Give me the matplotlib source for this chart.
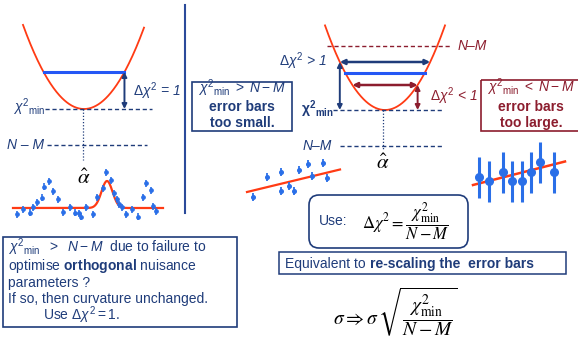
import numpy as np
import matplotlib
matplotlib.use("Agg")
import matplotlib.pyplot as plt
from matplotlib.patches import Rectangle, FancyBboxPatch

plt.rcParams['font.family'] = ['Liberation Sans', 'DejaVu Sans']
plt.rcParams['mathtext.fontset'] = 'custom'
plt.rcParams['mathtext.rm'] = 'Liberation Sans'
plt.rcParams['mathtext.it'] = 'Liberation Sans:italic'
plt.rcParams['mathtext.bf'] = 'Liberation Sans:bold'

# ---------------- data ----------------
# parabola shapes (vertex x, vertex y, curvature, x-range)
left_par = dict(x0=84, y0=109, k=0.0226, xmin=23, xmax=144)
right_par = dict(x0=385, y0=110, k=0.0235, xmin=325, xmax=445)
left_level = 72                      # blue level, left panel
right_levels = [62, 73, 85]          # navy arrow, blue line, dark red arrow

# left-panel data with a bump
bump_x = [16.7, 23.3, 30, 33.3, 37.3, 41.7, 44.3, 49.3, 52.7, 57.7, 62.7, 70, 75,
          79, 80.7, 85.7, 92.7, 96.7, 102.7, 106, 111, 114.3, 116.7, 119.3, 121.7,
          126, 131.7, 138.3, 142.7, 145.7, 150.7, 153.3, 156]
bump_y = [214.3, 209.3, 212.7, 207.3, 202.3, 197.7, 186.7, 181, 191, 199.3, 212.3,
          207.3, 212.7, 213.3, 216.7, 207.3, 214, 197.3, 188.3, 172.3, 180, 193.3,
          199.3, 204.3, 207.3, 214.3, 209.3, 216.7, 197.3, 183.3, 190, 206, 211]
bump_base, bump_amp, bump_mu, bump_sig = 208, 27, 107, 5.5

# small-error-bar fit (right panel, left)
small_x = [253, 267, 281, 281, 289, 294, 299, 308, 312, 323, 327]
small_y = [197, 177, 172, 191, 186, 191, 170, 164, 176, 163, 178]
small_line = ([247, 340], [192, 169.5])

# large-error-bar fit (right panel, right)
large_x = [479, 489, 503, 512, 522, 531, 540, 554]
large_y = [177, 181, 172, 181, 181, 172, 162, 172]
large_line = ([473, 565], [185, 161.5])

NAVY = '#1F3C7A'
DRED = '#8C1D2E'
RED = '#FF3B14'
BLUE = '#2457F5'
PT = '#2A6FE8'

CHI = r"\chi^2{}_{\rm min}"

fig = plt.figure(figsize=(5.78, 3.40), dpi=100)
ax = fig.add_axes([0, 0, 1, 1])
ax.set_xlim(0, 578)
ax.set_ylim(340, 0)
ax.axis('off')


def parabola(p):
    x = np.linspace(p['xmin'], p['xmax'], 200)
    return x, p['y0'] - p['k'] * (x - p['x0']) ** 2


def cross(p, level):
    d = np.sqrt((p['y0'] - level) / p['k'])
    return p['x0'] - d, p['x0'] + d


def arrow(x1, y1, x2, y2, color, style='<|-|>', lw=1.4, ms=7):
    ax.annotate('', xy=(x2, y2), xytext=(x1, y1),
                arrowprops=dict(arrowstyle=style, color=color, lw=lw,
                                shrinkA=0, shrinkB=0, mutation_scale=ms))


dash = dict(ls=(0, (3, 2)), lw=1.0)

# ---------------- left panel ----------------
x, y = parabola(left_par)
ax.plot(x, y, color=RED, lw=1.3)
a, b = cross(left_par, left_level)
ax.plot([a, b], [left_level, left_level], color=BLUE, lw=2.2)
arrow(b, left_level, b, left_par['y0'], NAVY)
ax.text(133, 96, r"$\mathit{\Delta}\chi^2$ = 1", style='italic', color=NAVY,
        fontsize=10, va='baseline')
ax.plot([45, 152], [109, 109], color=NAVY, **dash)
ax.text(13, 112, "$" + CHI + "$", color=NAVY, fontsize=10, va='baseline')
ax.plot([83, 83], [109, 160], color=NAVY, ls=(0, (1, 1.5)), lw=0.9)
ax.text(7, 145, "N – M", style='italic', color=NAVY, fontsize=10, va='center')
ax.plot([47, 147], [145, 145], color=NAVY, **dash)
ax.text(84, 178, r"$\hat{\alpha}$", fontsize=15, ha='center', va='center',
        math_fontfamily='stix')

bx = np.linspace(13, 163, 300)
ax.plot(bx, bump_base - bump_amp * np.exp(-0.5 * ((bx - bump_mu) / bump_sig) ** 2),
        color=RED, lw=1.6)
ax.errorbar(bump_x, bump_y, yerr=3.5, fmt='o', ms=2.4, color=PT, elinewidth=1.2,
            capsize=0)

ax.plot([185, 185], [5, 213], color='#2B4A9A', lw=1.5)

# ---------------- right panel ----------------
x, y = parabola(right_par)
ax.plot([327, 452], [46, 46], color=DRED, ls=(0, (3, 2)), lw=1.0)
ax.text(458, 46, "N–M", style='italic', color=DRED, fontsize=10, va='center')
ax.plot(x, y, color=RED, lw=1.3)
n1, n2 = cross(right_par, right_levels[0])
arrow(n1, right_levels[0], n2, right_levels[0], NAVY, lw=1.8)
c1, c2 = cross(right_par, right_levels[1])
ax.plot([c1, c2], [right_levels[1]] * 2, color=BLUE, lw=2.2)
r1, r2 = cross(right_par, right_levels[2])
arrow(r1, right_levels[2], r2, right_levels[2], DRED, lw=1.8)
arrow(n1, right_levels[0], n1, right_par['y0'], NAVY)
arrow(r2, right_levels[2], r2, right_par['y0'], DRED)
ax.text(327, 66, r"$\mathit{\Delta}\chi^2$ > 1", style='italic', color=NAVY,
        fontsize=10, va='baseline', ha='right')
ax.text(430, 101, r"$\mathit{\Delta}\chi^2$ < 1", style='italic', color=DRED,
        fontsize=10, va='baseline')
ax.plot([333, 444], [110, 110], color=NAVY, **dash)
ax.text(301, 114, r"$\mathbf{\chi^2{}_{min}}$", color=NAVY, fontsize=10,
        va='baseline')
ax.plot([383, 383], [110, 149], color=NAVY, ls=(0, (1, 1.5)), lw=0.9)
ax.text(303, 146, "N–M", style='italic', color=NAVY, fontsize=10, va='center')
ax.plot([340, 442], [146, 146], color=NAVY, **dash)
ax.text(383, 163, r"$\hat{\alpha}$", fontsize=15, ha='center', va='center',
        math_fontfamily='stix')

# boxes at the sides
ax.add_patch(Rectangle((192, 82), 100, 49, fill=False, ec=NAVY, lw=1.2))
ax.text(242, 93, "$" + CHI + r"\ >\ N - M$", color=NAVY, fontsize=10,
        ha='center', va='baseline')
ax.text(242, 111, "error bars", color=NAVY, fontsize=10, weight='bold',
        ha='center', va='baseline')
ax.text(242, 127, "too small.", color=NAVY, fontsize=10, weight='bold',
        ha='center', va='baseline')

ax.add_patch(Rectangle((481, 80), 100, 51, fill=False, ec=DRED, lw=1.2))
ax.text(531, 92, "$" + CHI + r"\ <\ N - M$", color=DRED, fontsize=10,
        ha='center', va='baseline')
ax.text(531, 111, "error bars", color=DRED, fontsize=10, weight='bold',
        ha='center', va='baseline')
ax.text(531, 127, "too large.", color=DRED, fontsize=10, weight='bold',
        ha='center', va='baseline')

# fits
ax.plot(*small_line, color=RED, lw=1.6)
ax.errorbar(small_x, small_y, yerr=4, fmt='o', ms=2.6, color=PT, elinewidth=1.3,
            capsize=0)
ax.plot(*large_line, color=RED, lw=1.8)
ax.errorbar(large_x, large_y, yerr=20.5, fmt='o', ms=5.5, color=PT, elinewidth=2.2,
            capsize=0)

# rounded formula box
ax.add_patch(FancyBboxPatch((309, 195), 159, 53,
                            boxstyle='round,pad=0,rounding_size=10',
                            fill=False, ec=NAVY, lw=1.2))
ax.text(319, 221, "Use:", color=NAVY, fontsize=10, va='center')
ax.text(362, 222, r"$\Delta\chi^2 = \dfrac{\chi^2_{\rm min}}{N - M}$", fontsize=12,
        va='center', math_fontfamily='stix', color='black')

# equivalent box
ax.add_patch(Rectangle((279, 252), 287, 22, fill=False, ec=NAVY, lw=1.1))
t = ax.text(285, 264, "Equivalent to", color=NAVY, fontsize=10, va='center')
ax.annotate("re-scaling the  error bars", xy=(1, 0.5), xycoords=t,
            xytext=(3, 0), textcoords='offset points', va='center', ha='left',
            color=NAVY, fontsize=10, weight='bold')

ax.text(333, 312, r"$\sigma \Rightarrow \sigma\,\sqrt{\dfrac{\chi^2_{\rm min}}{N - M}}$",
        fontsize=14, va='center', math_fontfamily='stix', color='black')

# bottom-left box
ax.add_patch(Rectangle((3, 237), 234, 90, fill=False, ec=NAVY, lw=1.2))
lines = ["$" + CHI + r"\ \ >\ \ N - M$  due to failure to",
         r"optimise $\mathbf{orthogonal}$ nuisance",
         "parameters ?",
         "If so, then curvature unchanged."]
ys = [252, 270, 286.5, 303]
for yy, s in zip(ys, lines):
    ax.text(8, yy, s, color=NAVY, fontsize=10, va='baseline')
ax.text(43, 320, r"Use $\mathit{\Delta}\chi^2 = \mathit{1.}$", color=NAVY,
        fontsize=10, va='baseline')

fig.savefig("out.png", dpi=100)
